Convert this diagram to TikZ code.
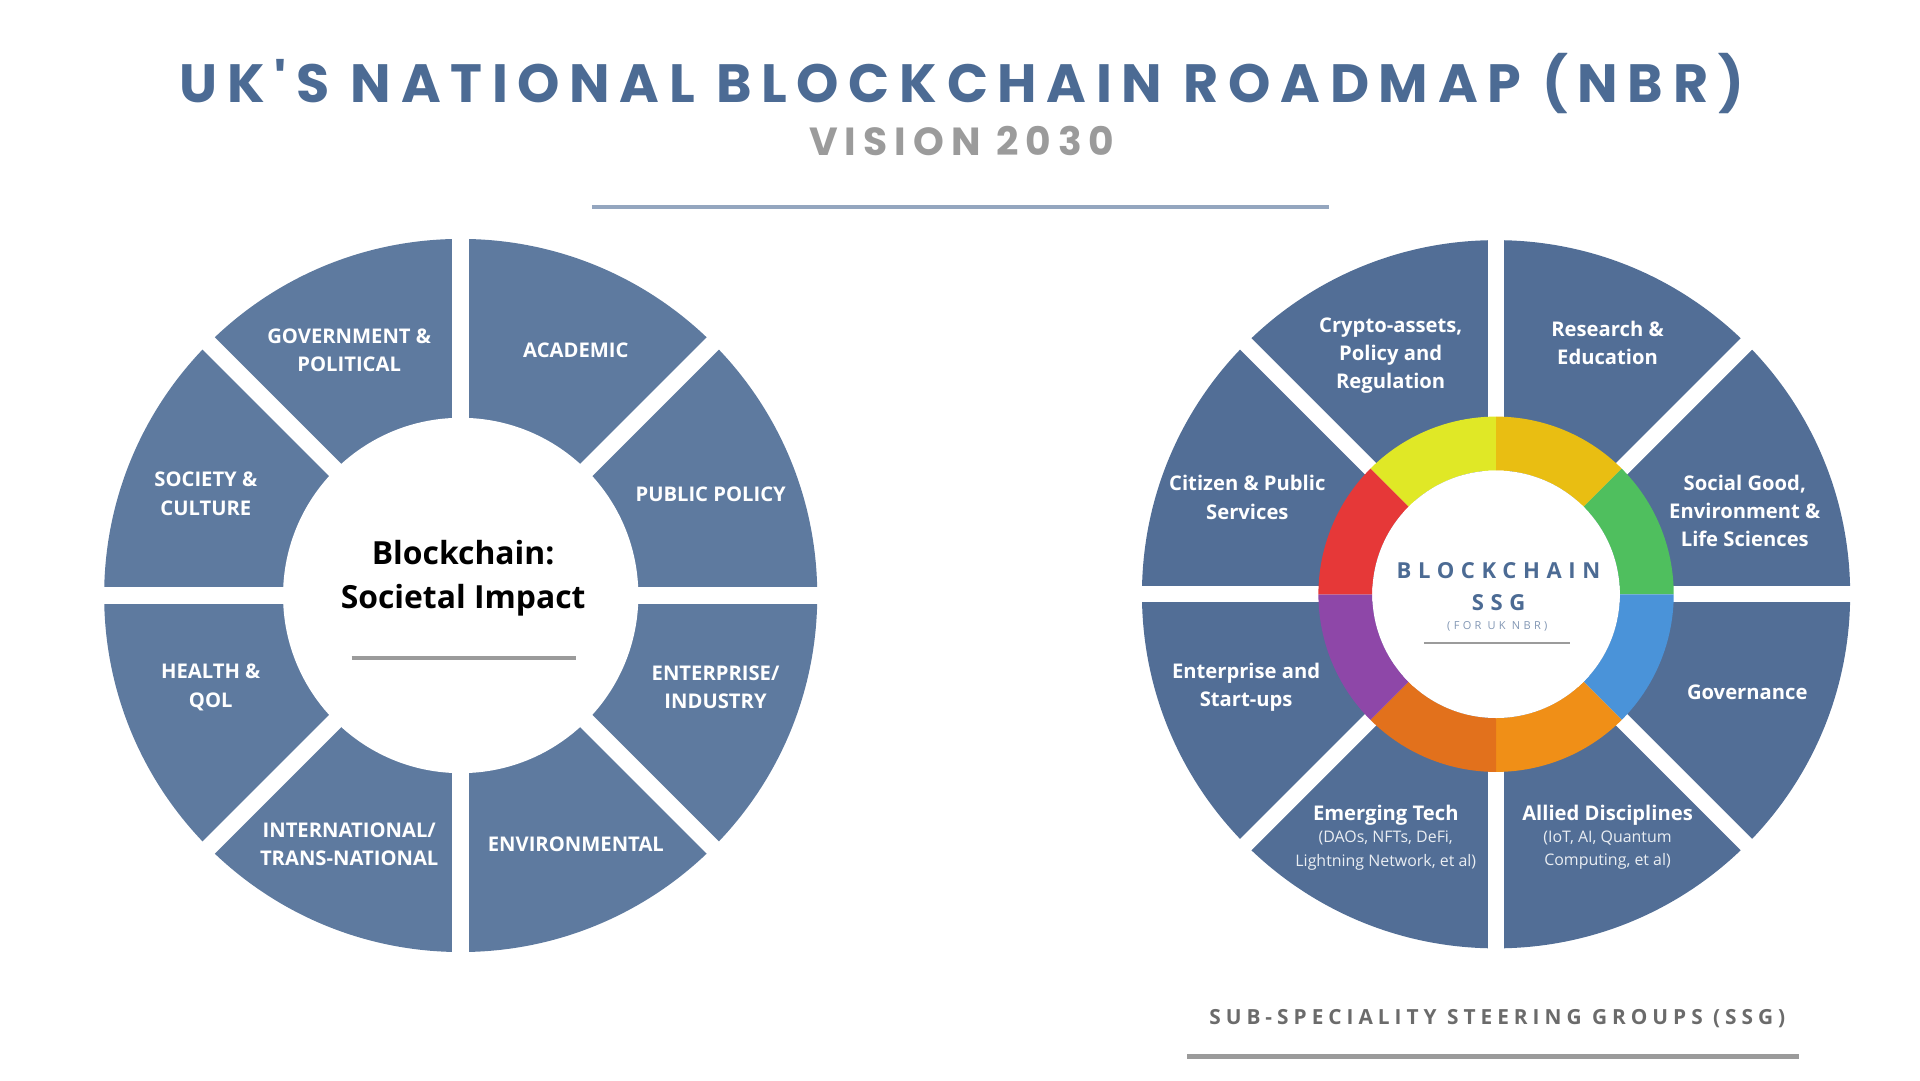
\documentclass[tikz,border=0pt]{standalone}
\usepackage{fontspec}
\setmainfont{Open Sans}
\newfontfamily\titlefont[LetterSpace=18]{Poppins}
\newfontfamily\ssgfont[LetterSpace=30]{Open Sans}
\newfontfamily\footfont[LetterSpace=24]{Open Sans}
\usetikzlibrary{positioning}
\definecolor{wheelL}{HTML}{5E7A9F}
\definecolor{wheelR}{HTML}{526E96}
\definecolor{titleblue}{HTML}{4C6B94}
\definecolor{greytext}{HTML}{9B9B9B}
\begin{document}
\begin{tikzpicture}[
x=1pt,y=-1pt,
sector/.style={font=\fontsize{16.5}{23}\selectfont\bfseries,text=white,align=center},
sublabel/.style={font=\fontsize{13}{19}\selectfont,text=white!88!wheelR,align=center},
gap/.style={white,line width=14pt}
]
\useasboundingbox (0,0) rectangle (1567,882);

% Title
\node (title) at (785,68) {\titlefont\fontsize{44}{50}\selectfont\bfseries\color{titleblue}UK'S NATIONAL BLOCKCHAIN ROADMAP (NBR)};
\node (vision) at (785,115) {\titlefont\fontsize{32}{36}\selectfont\bfseries\color{greytext}VISION 2030};
\draw [line width=3pt,color=titleblue!60] (483,169) -- (1085,169);

% Left wheel
\coordinate (cl) at (376,486);
\fill [wheelL] (cl) circle (291);
\foreach \a in {0,45,90,135}
  \draw [gap] ([shift={(\a:300)}]cl) -- ([shift={(\a+180:300)}]cl);
\fill [white] (cl) circle (145);
\foreach \x/\y/\t in {580/403/{PUBLIC POLICY},470/286/{ACADEMIC},285/286/{GOVERNMENT \&\\POLITICAL},168/403/{SOCIETY \&\\CULTURE},
                   172/561/{HEALTH \&\\QOL},285/689/{INTERNATIONAL/\\TRANS-NATIONAL},470/689/{ENVIRONMENTAL},584/561/{ENTERPRISE/\\INDUSTRY}}
  \node [sector] at (\x,\y) {\t};
\node [font=\fontsize{26}{36}\selectfont\bfseries,align=center] (impact) at (378,472) {Blockchain:\\Societal Impact};
\draw [line width=3pt,greytext] (287,537) -- (470,537);

% Right wheel
\coordinate (cr) at (1221,485);
\fill [wheelR] (cr) circle (289);
\foreach \a in {0,45,90,135}
  \draw [gap,line width=13pt] ([shift={(\a:300)}]cr) -- ([shift={(\a+180:300)}]cr);
\foreach \a/\c in {-135/E0E826,-90/E9BE12,-45/4FBF5E,0/4A93D9,45/F08F17,90/E2711C,135/8E47A8,180/E63838}{
  \definecolor{ring}{HTML}{\c}
  \fill [ring] ([shift={(\a:145)}]cr) arc [start angle=\a,end angle=\a+45,radius=145]
     -- ([shift={(\a+45:101)}]cr) arc [start angle=\a+45,end angle=\a,radius=101] -- cycle;
}
\fill [white] (cr) circle (101);
\node [sector] (crypto) at (1135,290) {Crypto-assets,\\Policy and\\Regulation};
\node [sector] (research) at (1312,280) {Research \&\\Education};
\node [sector] (social) at (1424,417) {Social Good,\\Environment \&\\Life Sciences};
\node [sector] (gov) at (1426,565) {Governance};
\node [sector] (allied) at (1312,665) {Allied Disciplines};
\node [sublabel,below=-2pt of allied] {(IoT, AI, Quantum\\Computing, et al)};
\node [sector] (emerging) at (1131,665) {Emerging Tech};
\node [sublabel,below=-2pt of emerging] {(DAOs, NFTs, DeFi,\\Lightning Network, et al)};
\node [sector] (enterprise) at (1017,561) {Enterprise and\\Start-ups};
\node [sector] (citizen) at (1018,406) {Citizen \& Public\\Services};
\node [font=\ssgfont\fontsize{18}{26}\selectfont\bfseries,text=titleblue,align=center] (ssg) at (1223,479) {BLOCKCHAIN\\SSG};
\node [font=\ssgfont\fontsize{9}{10}\selectfont,text=titleblue!70] (forbr) at (1222,511) {(FOR UK NBR)};
\draw [line width=1.5pt,greytext] (1162,525) -- (1281,525);

% Footer
\node (groups) at (1222,831) {\footfont\fontsize{17}{20}\selectfont\bfseries\color{black!58}SUB-SPECIALITY STEERING GROUPS (SSG)};
\draw [line width=4pt,greytext] (969,862) -- (1468,862);
\end{tikzpicture}
\end{document}
